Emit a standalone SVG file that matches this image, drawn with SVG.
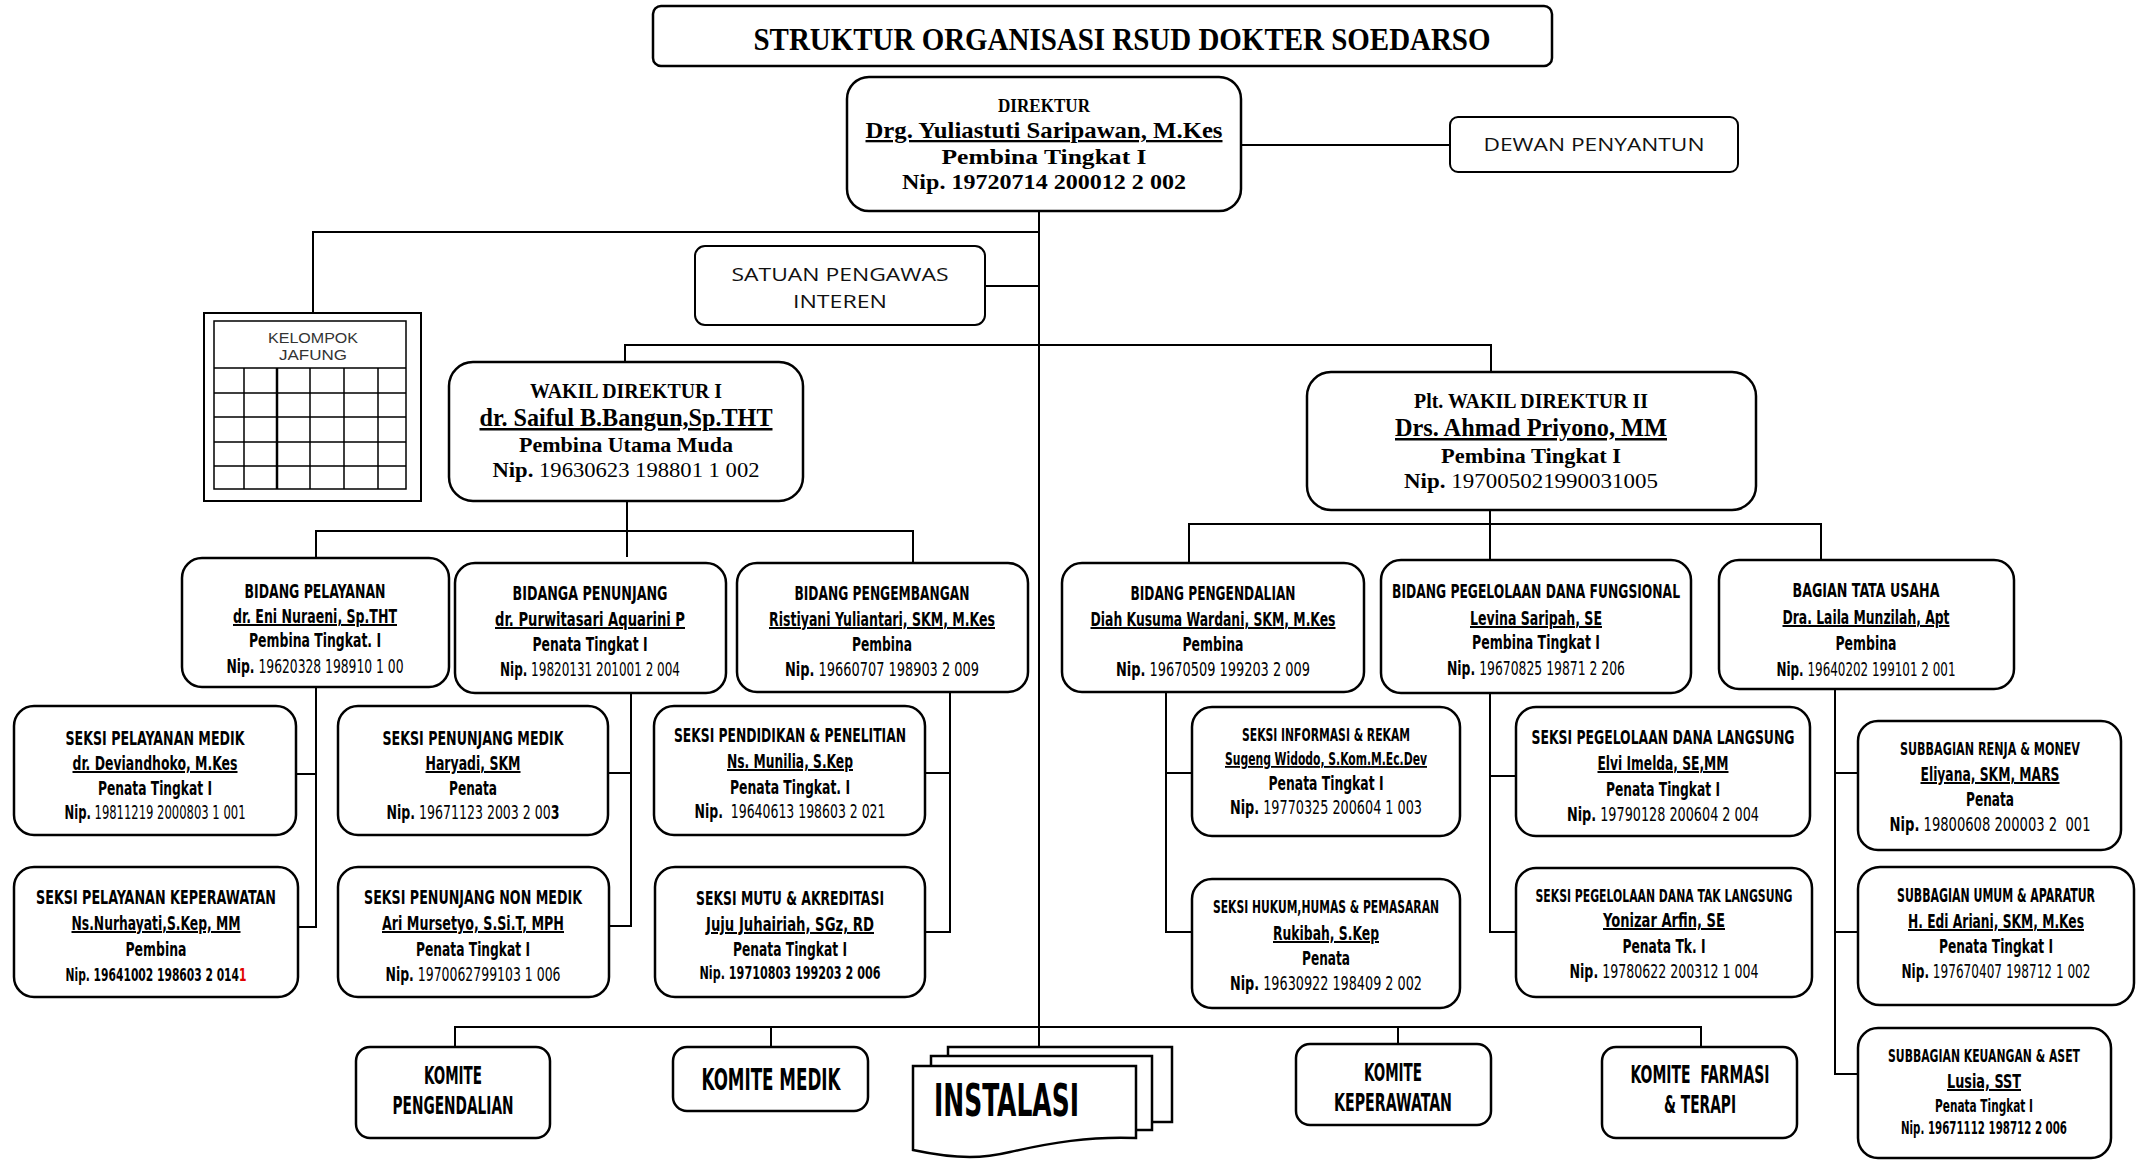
<svg xmlns="http://www.w3.org/2000/svg" width="2137" height="1160" viewBox="0 0 2137 1160">
<style>
.bx{fill:#fff;stroke:#000;stroke-width:2.5}
.ln{fill:none;stroke:#000;stroke-width:2}
.th{fill:none;stroke:#000;stroke-width:1.5}
.s{font-family:"Liberation Serif","DejaVu Serif",serif;font-weight:bold;text-anchor:middle;fill:#000}
.a{font-family:"Liberation Sans Narrow","DejaVu Sans Condensed","Liberation Sans",sans-serif;font-weight:bold;text-anchor:middle;font-size:20px;fill:#000}
.l{font-family:"Open Sans","Liberation Sans",sans-serif;text-anchor:middle;font-size:19px;fill:#111}
.st{text-anchor:start}
.en{text-anchor:end}
.n{font-weight:normal}
.u{text-decoration:underline}
</style>

<g id="connectors">
<path class="ln" d="M1241,145 H1450"/>
<path class="ln" d="M1039,211 V1047"/>
<path class="ln" d="M1039,232 H313 V313"/>
<path class="ln" d="M985,286 H1039"/>
<path class="ln" d="M625,362 V345 H1491 V372"/>
<path class="ln" d="M627,501 V557"/>
<path class="ln" d="M316,558 V531 H913 V563"/>
<path class="ln" d="M1490,510 V560"/>
<path class="ln" d="M1189,563 V524 H1821 V560"/>
<path class="ln" d="M316,687 V927 H298 M316,774 H296"/>
<path class="ln" d="M631,693 V926 H609 M631,773 H608"/>
<path class="ln" d="M950,692 V932 H925 M950,773 H925"/>
<path class="ln" d="M1166,692 V932 H1192 M1166,773 H1192"/>
<path class="ln" d="M1490,693 V932 H1516 M1490,776 H1516"/>
<path class="ln" d="M1835,689 V1074 H1858 M1835,773 H1858 M1835,932 H1858"/>
<path class="ln" d="M455,1047 V1027 H1701 V1047 M771,1027 V1047 M1398,1027 V1044"/>
</g>

<g id="title">
<rect class="bx" x="653" y="6" width="899" height="60" rx="8"/>
<text class="s" x="1122" y="50" font-size="32" textLength="737" lengthAdjust="spacingAndGlyphs">STRUKTUR ORGANISASI RSUD DOKTER SOEDARSO</text>
</g>

<g id="direktur">
<rect class="bx" x="847" y="77" width="394" height="134" rx="22"/>
<text class="s" x="1044" y="112" font-size="19" textLength="92" lengthAdjust="spacingAndGlyphs">DIREKTUR</text>
<text class="s u" x="1044" y="138" font-size="23" textLength="357" lengthAdjust="spacingAndGlyphs">Drg. Yuliastuti Saripawan, M.Kes</text>
<text class="s" x="1044" y="164" font-size="21" textLength="205" lengthAdjust="spacingAndGlyphs">Pembina Tingkat I</text>
<text class="s" x="1044" y="189" font-size="21" textLength="284" lengthAdjust="spacingAndGlyphs">Nip. 19720714 200012 2 002</text>
</g>

<g id="dewan-penyantun">
<rect class="bx" x="1450" y="117" width="288" height="55" rx="8" style="stroke-width:2"/>
<text class="l" x="1594" y="151" textLength="221" lengthAdjust="spacingAndGlyphs">DEWAN PENYANTUN</text>
</g>

<g id="satuan-pengawas">
<rect class="bx" x="695" y="246" width="290" height="79" rx="10" style="stroke-width:2"/>
<text class="l" x="840" y="281" textLength="217" lengthAdjust="spacingAndGlyphs">SATUAN PENGAWAS</text>
<text class="l" x="840" y="308" textLength="94" lengthAdjust="spacingAndGlyphs">INTEREN</text>
</g>

<g id="kelompok-jafung">
<rect x="204" y="313" width="217" height="188" fill="#fff" stroke="#000" stroke-width="2"/>
<rect x="214" y="321" width="192" height="168" fill="#fff" stroke="#000" stroke-width="1.5"/>
<path class="th" d="M214,368 H406 M214,393 H406 M214,417 H406 M214,442 H406 M214,466 H406 M244,368 V489 M310,368 V489 M344,368 V489 M378,368 V489"/>
<path d="M277,368 V489" stroke="#000" stroke-width="2.5"/>
<text x="313" y="343" font-family="Liberation Sans, Arial, sans-serif" font-size="14" text-anchor="middle" fill="#333" textLength="90" lengthAdjust="spacingAndGlyphs">KELOMPOK</text>
<text x="313" y="360" font-family="Liberation Sans, Arial, sans-serif" font-size="14" text-anchor="middle" fill="#333" textLength="68" lengthAdjust="spacingAndGlyphs">JAFUNG</text>
</g>

<g id="wakil-direktur-1">
<rect class="bx" x="449" y="362" width="354" height="139" rx="24"/>
<text class="s" x="626" y="398" font-size="22" textLength="192" lengthAdjust="spacingAndGlyphs">WAKIL DIREKTUR I</text>
<text class="s u" x="626" y="426" font-size="25" textLength="293" lengthAdjust="spacingAndGlyphs">dr. Saiful B.Bangun,Sp.THT</text>
<text class="s" x="626" y="452" font-size="22" textLength="214" lengthAdjust="spacingAndGlyphs">Pembina Utama Muda</text>
<text class="s" x="626" y="477" font-size="22" textLength="267" lengthAdjust="spacingAndGlyphs">Nip.<tspan class="n"> 19630623 198801 1 002</tspan></text>
</g>

<g id="wakil-direktur-2">
<rect class="bx" x="1307" y="372" width="449" height="138" rx="24"/>
<text class="s" x="1531" y="408" font-size="22" textLength="234" lengthAdjust="spacingAndGlyphs">Plt. WAKIL DIREKTUR II</text>
<text class="s u" x="1531" y="436" font-size="25" textLength="272" lengthAdjust="spacingAndGlyphs">Drs. Ahmad Priyono, MM</text>
<text class="s" x="1531" y="463" font-size="22" textLength="180" lengthAdjust="spacingAndGlyphs">Pembina Tingkat I</text>
<text class="s" x="1531" y="488" font-size="22" textLength="254" lengthAdjust="spacingAndGlyphs">Nip.<tspan class="n"> 197005021990031005</tspan></text>
</g>

<g id="bidang-pelayanan">
<rect class="bx" x="182" y="558" width="267" height="129" rx="20"/>
<text class="a" x="315" y="598" textLength="141" lengthAdjust="spacingAndGlyphs">BIDANG PELAYANAN</text>
<text class="a u" x="315" y="623" textLength="164" lengthAdjust="spacingAndGlyphs">dr. Eni Nuraeni, Sp.THT</text>
<text class="a" x="315" y="647" textLength="132" lengthAdjust="spacingAndGlyphs">Pembina Tingkat. I</text>
<text class="a" x="315" y="673" textLength="177" lengthAdjust="spacingAndGlyphs">Nip.<tspan class="n"> 19620328 198910 1 00</tspan></text>
</g>

<g id="bidanga-penunjang">
<rect class="bx" x="455" y="563" width="271" height="130" rx="20"/>
<text class="a" x="590" y="600" textLength="155" lengthAdjust="spacingAndGlyphs">BIDANGA PENUNJANG</text>
<text class="a u" x="590" y="626" textLength="190" lengthAdjust="spacingAndGlyphs">dr. Purwitasari Aquarini P</text>
<text class="a" x="590" y="651" textLength="115" lengthAdjust="spacingAndGlyphs">Penata Tingkat I</text>
<text class="a" x="590" y="676" textLength="180" lengthAdjust="spacingAndGlyphs">Nip.<tspan class="n"> 19820131 201001 2 004</tspan></text>
</g>

<g id="bidang-pengembangan">
<rect class="bx" x="737" y="563" width="291" height="129" rx="20"/>
<text class="a" x="882" y="600" textLength="175" lengthAdjust="spacingAndGlyphs">BIDANG PENGEMBANGAN</text>
<text class="a u" x="882" y="626" textLength="226" lengthAdjust="spacingAndGlyphs">Ristiyani Yuliantari, SKM, M.Kes</text>
<text class="a" x="882" y="651" textLength="60" lengthAdjust="spacingAndGlyphs">Pembina</text>
<text class="a" x="882" y="676" textLength="194" lengthAdjust="spacingAndGlyphs">Nip.<tspan class="n"> 19660707 198903 2 009</tspan></text>
</g>

<g id="bidang-pengendalian">
<rect class="bx" x="1062" y="563" width="302" height="129" rx="20"/>
<text class="a" x="1213" y="600" textLength="165" lengthAdjust="spacingAndGlyphs">BIDANG PENGENDALIAN</text>
<text class="a u" x="1213" y="626" textLength="245" lengthAdjust="spacingAndGlyphs">Diah Kusuma Wardani, SKM, M.Kes</text>
<text class="a" x="1213" y="651" textLength="61" lengthAdjust="spacingAndGlyphs">Pembina</text>
<text class="a" x="1213" y="676" textLength="194" lengthAdjust="spacingAndGlyphs">Nip.<tspan class="n"> 19670509 199203 2 009</tspan></text>
</g>

<g id="bidang-pegelolaan-dana-fungsional">
<rect class="bx" x="1381" y="560" width="310" height="133" rx="20"/>
<text class="a" x="1536" y="598" textLength="288" lengthAdjust="spacingAndGlyphs">BIDANG PEGELOLAAN DANA FUNGSIONAL</text>
<text class="a u" x="1536" y="625" textLength="132" lengthAdjust="spacingAndGlyphs">Levina Saripah, SE</text>
<text class="a" x="1536" y="649" textLength="128" lengthAdjust="spacingAndGlyphs">Pembina Tingkat I</text>
<text class="a" x="1536" y="675" textLength="178" lengthAdjust="spacingAndGlyphs">Nip.<tspan class="n"> 19670825 19871 2 206</tspan></text>
</g>

<g id="bagian-tata-usaha">
<rect class="bx" x="1719" y="560" width="295" height="129" rx="20"/>
<text class="a" x="1866" y="597" textLength="147" lengthAdjust="spacingAndGlyphs">BAGIAN TATA USAHA</text>
<text class="a u" x="1866" y="624" textLength="167" lengthAdjust="spacingAndGlyphs">Dra. Laila Munzilah, Apt</text>
<text class="a" x="1866" y="650" textLength="61" lengthAdjust="spacingAndGlyphs">Pembina</text>
<text class="a" x="1866" y="676" textLength="179" lengthAdjust="spacingAndGlyphs">Nip.<tspan class="n"> 19640202 199101 2 001</tspan></text>
</g>

<g id="seksi-pelayanan-medik">
<rect class="bx" x="14" y="706" width="282" height="129" rx="20"/>
<text class="a st" x="65.5" y="745" textLength="179" lengthAdjust="spacingAndGlyphs">SEKSI PELAYANAN MEDIK</text>
<text class="a st u" x="72.5" y="770" textLength="165" lengthAdjust="spacingAndGlyphs">dr. Deviandhoko, M.Kes</text>
<text class="a st" x="98" y="795" textLength="114" lengthAdjust="spacingAndGlyphs">Penata Tingkat I</text>
<text class="a st" x="64.5" y="819" textLength="181" lengthAdjust="spacingAndGlyphs">Nip.<tspan class="n"> 19811219 2000803 1 001</tspan></text>
</g>

<g id="seksi-penunjang-medik">
<rect class="bx" x="338" y="706" width="270" height="129" rx="20"/>
<text class="a" x="473" y="745" textLength="181" lengthAdjust="spacingAndGlyphs">SEKSI PENUNJANG MEDIK</text>
<text class="a u" x="473" y="770" textLength="95" lengthAdjust="spacingAndGlyphs">Haryadi, SKM</text>
<text class="a" x="473" y="795" textLength="48" lengthAdjust="spacingAndGlyphs">Penata</text>
<text class="a" x="473" y="819" textLength="173" lengthAdjust="spacingAndGlyphs">Nip.<tspan class="n"> 19671123 2003 2 00</tspan>3</text>
</g>

<g id="seksi-pendidikan-penelitian">
<rect class="bx" x="654" y="706" width="271" height="129" rx="20"/>
<text class="a" x="790" y="742" textLength="232" lengthAdjust="spacingAndGlyphs">SEKSI PENDIDIKAN &amp; PENELITIAN</text>
<text class="a u" x="790" y="768" textLength="126" lengthAdjust="spacingAndGlyphs">Ns. Munilia, S.Kep</text>
<text class="a" x="790" y="794" textLength="120" lengthAdjust="spacingAndGlyphs">Penata Tingkat. I</text>
<text class="a" x="790" y="818" textLength="191" lengthAdjust="spacingAndGlyphs" xml:space="preserve">Nip.<tspan class="n">  19640613 198603 2 021</tspan></text>
</g>

<g id="seksi-informasi-rekam">
<rect class="bx" x="1192" y="707" width="268" height="129" rx="20"/>
<text class="a" x="1326" y="741" style="font-size:18px" textLength="168" lengthAdjust="spacingAndGlyphs">SEKSI INFORMASI &amp; REKAM</text>
<text class="a u" x="1326" y="765" style="font-size:18px" textLength="202" lengthAdjust="spacingAndGlyphs">Sugeng Widodo, S.Kom.M.Ec.Dev</text>
<text class="a" x="1326" y="790" textLength="115" lengthAdjust="spacingAndGlyphs">Penata Tingkat I</text>
<text class="a" x="1326" y="814" textLength="192" lengthAdjust="spacingAndGlyphs">Nip.<tspan class="n"> 19770325 200604 1 003</tspan></text>
</g>

<g id="seksi-pegelolaan-dana-langsung">
<rect class="bx" x="1516" y="707" width="294" height="129" rx="20"/>
<text class="a" x="1663" y="744" textLength="263" lengthAdjust="spacingAndGlyphs">SEKSI PEGELOLAAN DANA LANGSUNG</text>
<text class="a u" x="1663" y="770" textLength="131" lengthAdjust="spacingAndGlyphs">Elvi Imelda, SE,MM</text>
<text class="a" x="1663" y="796" textLength="114" lengthAdjust="spacingAndGlyphs">Penata Tingkat I</text>
<text class="a" x="1663" y="821" textLength="192" lengthAdjust="spacingAndGlyphs">Nip.<tspan class="n"> 19790128 200604 2 004</tspan></text>
</g>

<g id="subbagian-renja-monev">
<rect class="bx" x="1858" y="721" width="263" height="129" rx="20"/>
<text class="a en" x="2080" y="755" style="font-size:18px" textLength="180" lengthAdjust="spacingAndGlyphs">SUBBAGIAN RENJA &amp; MONEV</text>
<text class="a en u" x="2059.5" y="781" textLength="139" lengthAdjust="spacingAndGlyphs">Eliyana, SKM, MARS</text>
<text class="a en" x="2014" y="806" textLength="48" lengthAdjust="spacingAndGlyphs">Penata</text>
<text class="a en" x="2090.5" y="831" textLength="201" lengthAdjust="spacingAndGlyphs" xml:space="preserve">Nip.<tspan class="n"> 19800608 200003 2  001</tspan></text>
</g>

<g id="seksi-pelayanan-keperawatan">
<rect class="bx" x="14" y="867" width="284" height="130" rx="20"/>
<text class="a st" x="36" y="904" textLength="240" lengthAdjust="spacingAndGlyphs">SEKSI PELAYANAN KEPERAWATAN</text>
<text class="a st u" x="71.5" y="930" textLength="169" lengthAdjust="spacingAndGlyphs">Ns.Nurhayati,S.Kep, MM</text>
<text class="a st" x="125.5" y="956" textLength="61" lengthAdjust="spacingAndGlyphs">Pembina</text>
<text class="a st" x="65.5" y="981" style="font-size:18px" textLength="181" lengthAdjust="spacingAndGlyphs">Nip. 19641002 198603 2 014<tspan style="fill:#e00000">1</tspan></text>
</g>

<g id="seksi-penunjang-non-medik">
<rect class="bx" x="338" y="867" width="271" height="130" rx="20"/>
<text class="a" x="473" y="904" textLength="218" lengthAdjust="spacingAndGlyphs">SEKSI PENUNJANG NON MEDIK</text>
<text class="a u" x="473" y="930" textLength="182" lengthAdjust="spacingAndGlyphs">Ari Mursetyo, S.Si.T, MPH</text>
<text class="a" x="473" y="956" textLength="114" lengthAdjust="spacingAndGlyphs">Penata Tingkat I</text>
<text class="a" x="473" y="981" textLength="175" lengthAdjust="spacingAndGlyphs">Nip.<tspan class="n"> 1970062799103 1 006</tspan></text>
</g>

<g id="seksi-mutu-akreditasi">
<rect class="bx" x="655" y="867" width="270" height="130" rx="20"/>
<text class="a" x="790" y="905" textLength="188" lengthAdjust="spacingAndGlyphs">SEKSI MUTU &amp; AKREDITASI</text>
<text class="a u" x="790" y="931" textLength="168" lengthAdjust="spacingAndGlyphs">Juju Juhairiah, SGz, RD</text>
<text class="a" x="790" y="956" textLength="114" lengthAdjust="spacingAndGlyphs">Penata Tingkat I</text>
<text class="a" x="790" y="979" style="font-size:17px" textLength="181" lengthAdjust="spacingAndGlyphs">Nip. 19710803 199203 2 006</text>
</g>

<g id="seksi-hukum-humas-pemasaran">
<rect class="bx" x="1192" y="879" width="268" height="129" rx="20"/>
<text class="a" x="1326" y="913" style="font-size:18px" textLength="226" lengthAdjust="spacingAndGlyphs">SEKSI HUKUM,HUMAS &amp; PEMASARAN</text>
<text class="a u" x="1326" y="940" textLength="106" lengthAdjust="spacingAndGlyphs">Rukibah, S.Kep</text>
<text class="a" x="1326" y="965" textLength="48" lengthAdjust="spacingAndGlyphs">Penata</text>
<text class="a" x="1326" y="990" textLength="192" lengthAdjust="spacingAndGlyphs">Nip.<tspan class="n"> 19630922 198409 2 002</tspan></text>
</g>

<g id="seksi-pegelolaan-dana-tak-langsung">
<rect class="bx" x="1516" y="868" width="296" height="129" rx="20"/>
<text class="a" x="1664" y="902" style="font-size:18px" textLength="257" lengthAdjust="spacingAndGlyphs">SEKSI PEGELOLAAN DANA TAK LANGSUNG</text>
<text class="a u" x="1664" y="927" textLength="122" lengthAdjust="spacingAndGlyphs">Yonizar Arfin, SE</text>
<text class="a" x="1664" y="953" textLength="83" lengthAdjust="spacingAndGlyphs">Penata Tk. I</text>
<text class="a" x="1664" y="978" textLength="189" lengthAdjust="spacingAndGlyphs">Nip.<tspan class="n"> 19780622 200312 1 004</tspan></text>
</g>

<g id="subbagian-umum-aparatur">
<rect class="bx" x="1858" y="867" width="276" height="138" rx="22"/>
<text class="a en" x="2095" y="902" style="font-size:19px" textLength="198" lengthAdjust="spacingAndGlyphs">SUBBAGIAN UMUM &amp; APARATUR</text>
<text class="a en u" x="2084" y="928" textLength="176" lengthAdjust="spacingAndGlyphs">H. Edi Ariani, SKM, M.Kes</text>
<text class="a en" x="2053" y="953" textLength="114" lengthAdjust="spacingAndGlyphs">Penata Tingkat I</text>
<text class="a en" x="2090.5" y="978" textLength="189" lengthAdjust="spacingAndGlyphs">Nip.<tspan class="n"> 197670407 198712 1 002</tspan></text>
</g>

<g id="subbagian-keuangan-aset">
<rect class="bx" x="1858" y="1028" width="253" height="130" rx="20"/>
<text class="a en" x="2080" y="1062" style="font-size:18px" textLength="192" lengthAdjust="spacingAndGlyphs">SUBBAGIAN KEUANGAN &amp; ASET</text>
<text class="a en u" x="2021" y="1088" textLength="74" lengthAdjust="spacingAndGlyphs">Lusia, SST</text>
<text class="a en" x="2033" y="1112" style="font-size:18px" textLength="98" lengthAdjust="spacingAndGlyphs">Penata Tingkat I</text>
<text class="a en" x="2067" y="1134" style="font-size:17px" textLength="166" lengthAdjust="spacingAndGlyphs">Nip. 19671112 198712 2 006</text>
</g>

<g id="komite-pengendalian">
<rect class="bx" x="356" y="1047" width="194" height="91" rx="14"/>
<text class="a" x="453" y="1084" style="font-size:25px" textLength="58" lengthAdjust="spacingAndGlyphs">KOMITE</text>
<text class="a" x="453" y="1114" style="font-size:25px" textLength="121" lengthAdjust="spacingAndGlyphs">PENGENDALIAN</text>
</g>

<g id="komite-medik">
<rect class="bx" x="673" y="1047" width="195" height="64" rx="14"/>
<text class="a" x="771" y="1090" style="font-size:31px" textLength="139" lengthAdjust="spacingAndGlyphs">KOMITE MEDIK</text>
</g>

<g id="instalasi">
<path class="bx" d="M948,1047 H1172 V1122 H948 Z"/>
<path class="bx" d="M931,1056 H1152 V1130 H931 Z"/>
<path class="bx" d="M913,1066 H1136 V1138 C1090,1136 1050,1143 1010,1152 C985,1158 960,1160 913,1150 Z"/>
<text class="a st" x="934" y="1116" style="font-size:44px" textLength="145" lengthAdjust="spacingAndGlyphs">INSTALASI</text>
</g>

<g id="komite-keperawatan">
<rect class="bx" x="1296" y="1044" width="195" height="81" rx="14"/>
<text class="a" x="1393" y="1081" style="font-size:25px" textLength="58" lengthAdjust="spacingAndGlyphs">KOMITE</text>
<text class="a" x="1393" y="1111" style="font-size:25px" textLength="118" lengthAdjust="spacingAndGlyphs">KEPERAWATAN</text>
</g>

<g id="komite-farmasi-terapi">
<rect class="bx" x="1602" y="1047" width="195" height="91" rx="14"/>
<text class="a" x="1700" y="1083" style="font-size:25px" textLength="139" lengthAdjust="spacingAndGlyphs" xml:space="preserve">KOMITE  FARMASI</text>
<text class="a" x="1700" y="1113" style="font-size:25px" textLength="72" lengthAdjust="spacingAndGlyphs">&amp; TERAPI</text>
</g>
</svg>
